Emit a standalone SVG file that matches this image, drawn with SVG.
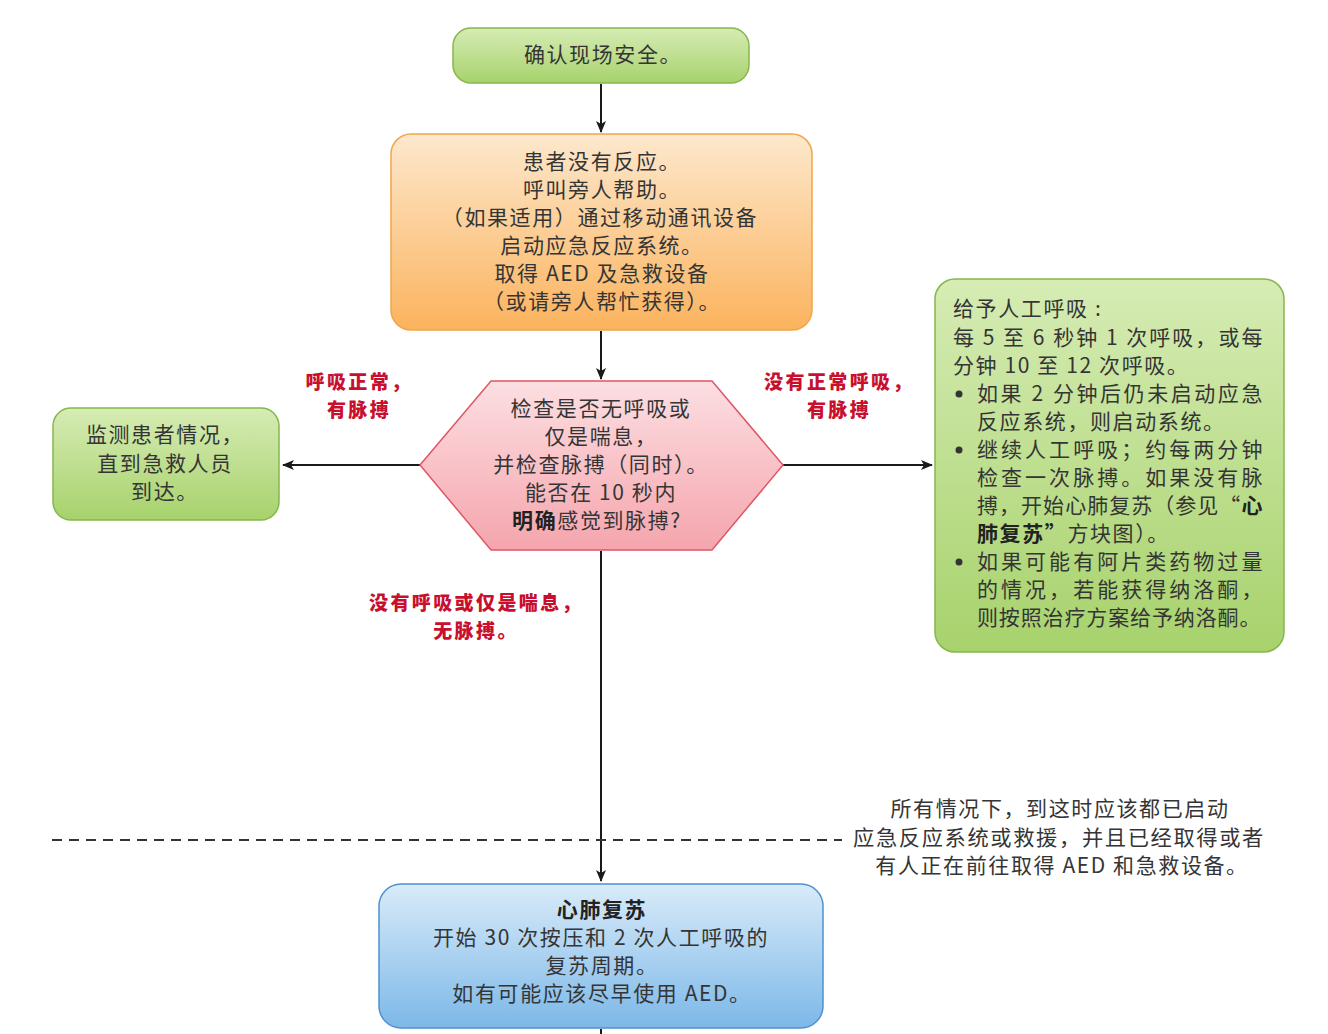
<svg xmlns="http://www.w3.org/2000/svg" width="1328" height="1034" viewBox="0 0 1328 1034">
<defs>
<linearGradient id="gGreen" x1="0" y1="0" x2="0" y2="1"><stop offset="0" stop-color="#d6ecb4"/><stop offset="1" stop-color="#a7d26c"/></linearGradient>
<linearGradient id="gOrange" x1="0" y1="0" x2="0" y2="1"><stop offset="0" stop-color="#fde8cd"/><stop offset="1" stop-color="#fbb35d"/></linearGradient>
<linearGradient id="gPink" x1="0" y1="0" x2="0" y2="1"><stop offset="0" stop-color="#fcdfe2"/><stop offset="1" stop-color="#f5a5ad"/></linearGradient>
<linearGradient id="gBlue" x1="0" y1="0" x2="0" y2="1"><stop offset="0" stop-color="#d9ebf9"/><stop offset="1" stop-color="#7cb8e8"/></linearGradient>
<marker id="arr" viewBox="0 0 12 12" refX="11" refY="6" markerWidth="12" markerHeight="12" markerUnits="userSpaceOnUse" orient="auto">
<path d="M0,1 L12,6 L0,11 L3,6 Z" fill="#1a1a1a"/>
</marker>
<style>
text{font-family:"Noto Sans CJK SC","Noto Sans",sans-serif;fill:#353535;font-size:21px;letter-spacing:1.6px}
.c{text-anchor:middle}
.b{font-weight:bold;fill:#222}
.red{fill:#c8102e;font-weight:900;font-size:19px;letter-spacing:2.4px;text-anchor:middle}
.ln{stroke:#1a1a1a;stroke-width:2;fill:none}
.green{fill:url(#gGreen);stroke:#86b64e;stroke-width:1.5}
</style>
</defs>
<rect width="1328" height="1034" fill="#ffffff"/>

<g id="connectors">
<line class="ln" x1="601" y1="84" x2="601" y2="132" marker-end="url(#arr)"/>
<line class="ln" x1="601" y1="331" x2="601" y2="379" marker-end="url(#arr)"/>
<line class="ln" x1="420" y1="465" x2="283" y2="465" marker-end="url(#arr)"/>
<line class="ln" x1="783" y1="465" x2="932" y2="465" marker-end="url(#arr)"/>
<line class="ln" x1="601" y1="551" x2="601" y2="881" marker-end="url(#arr)"/>
<line class="ln" x1="601" y1="1029" x2="601" y2="1034"/>
<line x1="52" y1="840" x2="842" y2="840" stroke="#333" stroke-width="2" stroke-dasharray="10,7"/>
</g>

<g id="labels">
<text class="red" x="359" y="389">呼吸正常，</text>
<text class="red" x="359" y="417">有脉搏</text>
<text class="red" x="839" y="389">没有正常呼吸，</text>
<text class="red" x="839" y="417">有脉搏</text>
<text class="red" x="476" y="610">没有呼吸或仅是喘息，</text>
<text class="red" x="476" y="638">无脉搏。</text>
</g>

<g id="note">
<text class="c" x="1060" y="816">所有情况下，到这时应该都已启动</text>
<text class="c" x="1059" y="845" textLength="412" lengthAdjust="spacingAndGlyphs">应急反应系统或救援，并且已经取得或者</text>
<text class="c" x="1062" y="873">有人正在前往取得 AED 和急救设备。</text>
</g>

<g id="n1">
<rect class="green" x="453" y="28" width="296" height="55" rx="18"/>
<text class="c" x="603" y="62">确认现场安全。</text>
</g>

<g id="n2">
<rect x="391" y="134" width="421" height="196" rx="20" fill="url(#gOrange)" stroke="#f0a64a" stroke-width="1.5"/>
<text class="c" x="602" y="169">患者没有反应。</text>
<text class="c" x="602" y="197">呼叫旁人帮助。</text>
<text class="c" x="600" y="225">（如果适用）通过移动通讯设备</text>
<text class="c" x="602" y="253">启动应急反应系统。</text>
<text class="c" x="602" y="281">取得 AED 及急救设备</text>
<text class="c" x="602" y="309">（或请旁人帮忙获得）。</text>
</g>

<g id="n3">
<polygon points="420,465 491,381 712,381 783,465 712,550 491,550" fill="url(#gPink)" stroke="#df5665" stroke-width="1.5"/>
<text class="c" x="601" y="416">检查是否无呼吸或</text>
<text class="c" x="601" y="444">仅是喘息，</text>
<text class="c" x="601" y="472">并检查脉搏（同时）。</text>
<text class="c" x="601" y="500">能否在 10 秒内</text>
<text class="c" x="597" y="528"><tspan class="b">明确</tspan>感觉到脉搏?</text>
</g>

<g id="n4">
<rect class="green" x="53" y="408" width="226" height="112" rx="18"/>
<text class="c" x="165" y="442">监测患者情况，</text>
<text class="c" x="165" y="471">直到急救人员</text>
<text class="c" x="165" y="499">到达。</text>
</g>

<g id="n5">
<rect class="green" x="935" y="279" width="349" height="373" rx="20"/>
<text x="953" y="316">给予人工呼吸 :</text>
<text x="953" y="345" textLength="311" lengthAdjust="spacing">每 5 至 6 秒钟 1 次呼吸，或每</text>
<text x="953" y="373">分钟 10 至 12 次呼吸。</text>
<circle cx="959" cy="394" r="3.5" fill="#333"/>
<text x="977" y="401" textLength="287" lengthAdjust="spacing">如果 2 分钟后仍未启动应急</text>
<text x="977" y="429">反应系统，则启动系统。</text>
<circle cx="959" cy="450" r="3.5" fill="#333"/>
<text x="977" y="457" textLength="287" lengthAdjust="spacing">继续人工呼吸；约每两分钟</text>
<text x="977" y="485" textLength="287" lengthAdjust="spacing">检查一次脉搏。如果没有脉</text>
<text x="977" y="513" textLength="287" lengthAdjust="spacing">搏，开始心肺复苏（参见“<tspan class="b">心</tspan></text>
<text x="977" y="541"><tspan class="b">肺复苏”</tspan>方块图）。</text>
<circle cx="959" cy="562" r="3.5" fill="#333"/>
<text x="977" y="569" textLength="287" lengthAdjust="spacing">如果可能有阿片类药物过量</text>
<text x="977" y="597" textLength="287" lengthAdjust="spacing">的情况，若能获得纳洛酮，</text>
<text x="977" y="625" textLength="285" lengthAdjust="spacing">则按照治疗方案给予纳洛酮。</text>
</g>

<g id="n6">
<rect x="379" y="884" width="444" height="144" rx="22" fill="url(#gBlue)" stroke="#4f91cf" stroke-width="1.5"/>
<text class="c b" x="602" y="917">心肺复苏</text>
<text class="c" x="601" y="945">开始 30 次按压和 2 次人工呼吸的</text>
<text class="c" x="602" y="973">复苏周期。</text>
<text class="c" x="602" y="1001">如有可能应该尽早使用 AED。</text>
</g>
</svg>
